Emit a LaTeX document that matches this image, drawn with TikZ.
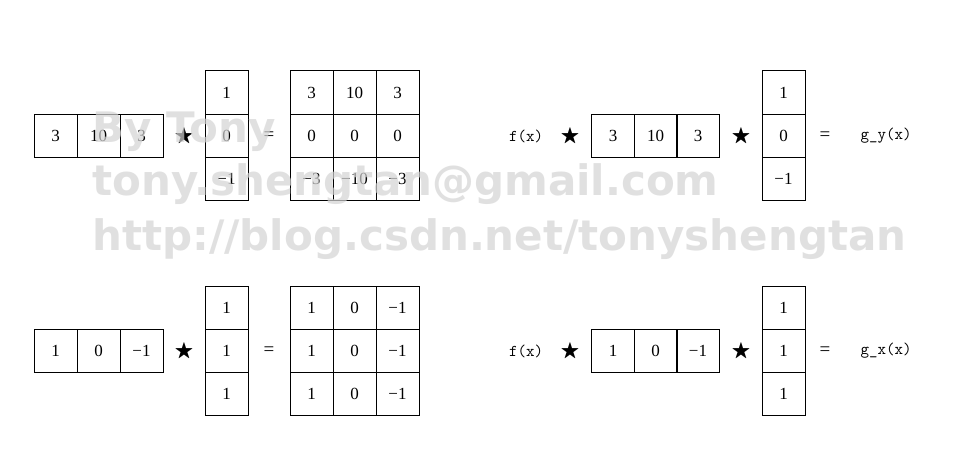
\documentclass[tikz,border=0pt]{standalone}
\usepackage{amssymb}
\usepackage{fontspec}
\newfontfamily\wmfont{DejaVu Sans}
\newfontfamily\cellfont{Liberation Serif}
\definecolor{wmgray}{RGB}{212,212,212}
\begin{document}
\begin{tikzpicture}[x=1pt,y=-1pt,
  cell/.style={draw=black,line width=1pt,minimum width=43pt,minimum height=43pt,inner sep=0pt,font=\cellfont\fontsize{17}{17}\selectfont},
  op/.style={inner sep=0pt,font=\cellfont\fontsize{19}{19}\selectfont},
  staro/.style={inner sep=0pt,font=\fontsize{20}{20}\selectfont},
  lbl/.style={inner sep=0pt,font=\ttfamily\fontsize{16.5}{16.5}\selectfont},
  wm/.style={anchor=base west,inner sep=0pt,text=wmgray,opacity=0.7,font=\wmfont\bfseries\fontsize{42}{42}\selectfont}]
\useasboundingbox[fill=white] (0,0) rectangle (973,468);

% ---------- top left ----------
\node[cell] (a1) at (55.5,135.5) {3};
\node[cell] (a2) at (98.5,135.5) {10};
\node[cell] (a3) at (141.5,135.5) {3};
\node[staro] (as) at (184,136.5) {$\bigstar$};
\node[cell] (b1) at (226.5,92.5) {1};
\node[cell] (b2) at (226.5,135.5) {0};
\node[cell] (b3) at (226.5,178.5) {−1};
\node[op] (aeq) at (269,136) {=};
\node[cell] (m11) at (311.5,92.5) {3};
\node[cell] (m12) at (354.5,92.5) {10};
\node[cell] (m13) at (397.5,92.5) {3};
\node[cell] (m21) at (311.5,135.5) {0};
\node[cell] (m22) at (354.5,135.5) {0};
\node[cell] (m23) at (397.5,135.5) {0};
\node[cell] (m31) at (311.5,178.5) {−3};
\node[cell] (m32) at (354.5,178.5) {−10};
\node[cell] (m33) at (397.5,178.5) {−3};

% ---------- top right ----------
\node[lbl] (fy) at (526,136) {f(x)};
\node[staro] (s1) at (570,136.5) {$\bigstar$};
\node[cell] (c1) at (613,135.5) {3};
\node[cell] (c2) at (655.5,135.5) {10};
\node[cell] (c3) at (698,135.5) {3};
\node[staro] (s2) at (741,136.5) {$\bigstar$};
\node[cell] (d1) at (783.5,92.5) {1};
\node[cell] (d2) at (783.5,135.5) {0};
\node[cell] (d3) at (783.5,178.5) {−1};
\node[op] (eq2) at (825,136) {=};
\node[lbl] (gy) at (886,136) {g\_y(x)};

% ---------- bottom left ----------
\node[cell] (e1) at (55.5,350.5) {1};
\node[cell] (e2) at (98.5,350.5) {0};
\node[cell] (e3) at (141.5,350.5) {−1};
\node[staro] (es) at (184,351.5) {$\bigstar$};
\node[cell] (f1) at (226.5,307.5) {1};
\node[cell] (f2) at (226.5,350.5) {1};
\node[cell] (f3) at (226.5,393.5) {1};
\node[op] (eeq) at (269,351) {=};
\node[cell] (n11) at (311.5,307.5) {1};
\node[cell] (n12) at (354.5,307.5) {0};
\node[cell] (n13) at (397.5,307.5) {−1};
\node[cell] (n21) at (311.5,350.5) {1};
\node[cell] (n22) at (354.5,350.5) {0};
\node[cell] (n23) at (397.5,350.5) {−1};
\node[cell] (n31) at (311.5,393.5) {1};
\node[cell] (n32) at (354.5,393.5) {0};
\node[cell] (n33) at (397.5,393.5) {−1};

% ---------- bottom right ----------
\node[lbl] (fx) at (526,351) {f(x)};
\node[staro] (s3) at (570,351.5) {$\bigstar$};
\node[cell] (g1) at (613,350.5) {1};
\node[cell] (g2) at (655.5,350.5) {0};
\node[cell] (g3) at (698,350.5) {−1};
\node[staro] (s4) at (741,351.5) {$\bigstar$};
\node[cell] (h1) at (783.5,307.5) {1};
\node[cell] (h2) at (783.5,350.5) {1};
\node[cell] (h3) at (783.5,393.5) {1};
\node[op] (eq4) at (825,351) {=};
\node[lbl] (gx) at (886,351) {g\_x(x)};

% ---------- watermark ----------
\node[wm] (w1) at (92,142) {By Tony};
\node[wm] (w2) at (92,195) {tony.shengtan@gmail.com};
\node[wm] (w3) at (92,250) {http://blog.csdn.net/tonyshengtan};
\end{tikzpicture}
\end{document}
